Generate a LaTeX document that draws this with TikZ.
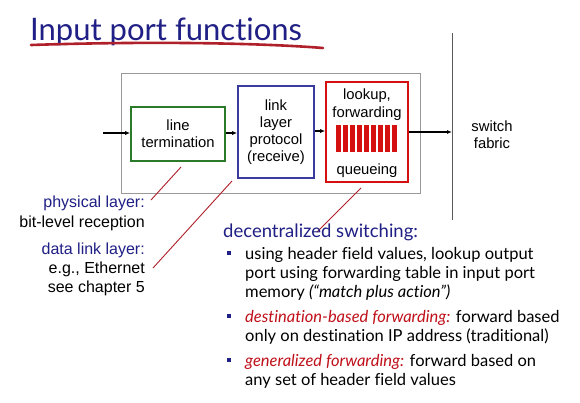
\documentclass[tikz,border=0pt]{standalone}
\usepackage{fontspec}
\setmainfont{Liberation Sans}
\newfontfamily\gill[Ligatures=NoCommon]{Lato}
\usetikzlibrary{arrows.meta}
\definecolor{navy}{HTML}{1F1F85}
\definecolor{darkred}{HTML}{C0101A}
\definecolor{boxgreen}{HTML}{2A7A2A}
\definecolor{boxblue}{HTML}{3A3AA0}
\definecolor{boxred}{HTML}{D41010}
\definecolor{linered}{HTML}{B0202A}
\tikzset{
  blk/.style={draw, line width=1.6pt, inner sep=0pt},
  lbl/.style={font=\fontsize{14.8}{17}\selectfont, align=center, inner sep=0pt},
  flow/.style={-{Latex[length=5pt,width=4pt]}, line width=1.3pt},
  pointer/.style={draw=linered, line width=0.9pt},
  side/.style={font=\fontsize{16}{18}\selectfont, anchor=base east, inner sep=0pt},
  body/.style={font=\gill\fontsize{16.5}{19}\selectfont, anchor=base west, inner sep=0pt},
  bullet/.style={fill=navy, minimum size=4.5pt, inner sep=0pt},
}
\begin{document}
\begin{tikzpicture}[x=1pt,y=-1pt]
\useasboundingbox (0,0) rectangle (580,402);
\fill[white] (0,0) rectangle (580,402);
% title
\node[anchor=base west, inner sep=0pt, text=navy, font=\gill\fontsize{31}{36}\selectfont] (title) at (30,40) {Input port functions};
\draw[linered, line width=2.6pt, line cap=round] (31,45) .. controls (150,41) and (260,43) .. (323,48);
% outer box
\node[draw=gray!80, line width=1pt, minimum width=299pt, minimum height=120pt, inner sep=0pt] (outer) at (271,133) {};
% blocks
\node[blk, draw=boxgreen, minimum width=94pt, minimum height=54pt] (lt) at (178,134) {};
\node[lbl] at (lt) {line\\termination};
\node[blk, draw=boxblue, minimum width=76pt, minimum height=92pt] (ll) at (276,132) {};
\node[lbl] at (ll) {link\\layer\\protocol\\(receive)};
\node[blk, draw=boxred, minimum width=82pt, minimum height=100pt] (lk) at (367,132) {};
\node[lbl, anchor=north, font=\fontsize{14.8}{18}\selectfont] (lktext) at (367,88.5) {lookup,\\forwarding};
\node[lbl, anchor=base] (qtext) at (367,174) {queueing};
\foreach \i in {0,...,8} {
  \fill[boxred] (336+\i*7,124.5) rectangle ++(4.6,27.5);
}
% fabric line
\coordinate (ftop) at (452,33);
\coordinate (fbot) at (452,220);
\draw[gray!70!black, line width=0.9pt] (ftop) -- (fbot);
\node[lbl] (fabric) at (492,135) {switch\\fabric};
% arrows
\coordinate (in) at (103,133);
\draw[flow] (in) -- (lt.west |- in);
\draw[flow] (lt.east |- 0,133) -- (ll.west |- 0,133);
\draw[flow] (ll.east |- 0,131) -- (lk.west |- 0,131);
\draw[flow] (lk.east |- 0,132) -- (452,132);
% left labels
\node[side, text=navy] (phys) at (145,207) {physical layer:};
\node[side] (bitl) at (145,227) {bit-level reception};
\node[side, text=navy] (dll) at (145,254) {data link layer:};
\node[side] (eth) at (145,273) {e.g., Ethernet};
\node[side] (ch5) at (145,292) {see chapter 5};
% pointers
\coordinate (p1a) at (181,167);
\coordinate (p1b) at (151,200);
\draw[pointer] (p1a) -- (p1b);
\coordinate (p2a) at (232,181);
\coordinate (p2b) at (153,268);
\draw[pointer] (p2a) -- (p2b);
\coordinate (p3a) at (361,188);
\coordinate (p3b) at (317,232);
\draw[pointer] (p3a) -- (p3b);
% decentralized switching
\node[anchor=base west, inner sep=0pt, text=navy, font=\gill\fontsize{18.5}{21}\selectfont] (dec) at (223,237) {decentralized switching:};
\node[bullet] (b1) at (229,253) {};
\node[body] (t1a) at (245,259) {using header field values, lookup output};
\node[body] (t1b) at (245,278) {port using forwarding table in input port};
\node[body] (t1c) at (245,297) {memory \textit{(“match plus action”)}};
\node[bullet] (b2) at (229,316) {};
\node[body] (t2a) at (245,322) {\textcolor{darkred}{\textit{destination-based forwarding:}} forward based};
\node[body] (t2b) at (245,341) {only on destination IP address (traditional)};
\node[bullet] (b3) at (229,360) {};
\node[body] (t3a) at (245,366) {\textcolor{darkred}{\textit{generalized forwarding:}} forward based on};
\node[body] (t3b) at (245,385) {any set of header field values};
\end{tikzpicture}
\end{document}
